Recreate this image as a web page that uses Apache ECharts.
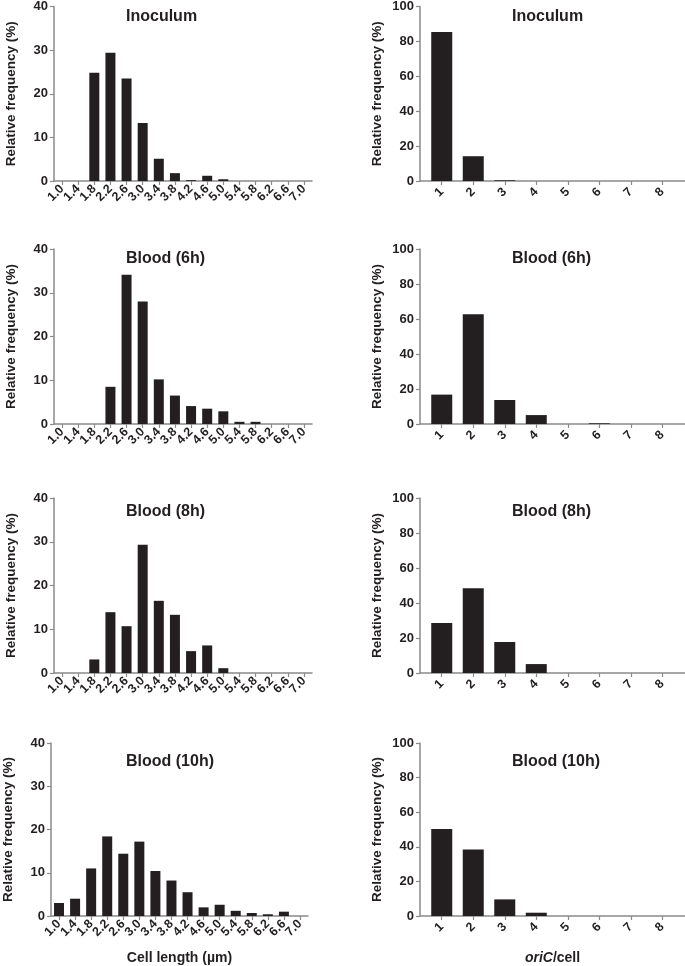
<!DOCTYPE html>
<html>
<head>
<meta charset="utf-8">
<script src="https://cdn.jsdelivr.net/npm/echarts@6/dist/echarts.min.js"></script>
<style>
html,body{margin:0;padding:0;background:#fff;}
#chart{width:685px;height:966px;}
</style>
</head>
<body>
<div id="chart"></div>
<script>
// ---- Data ----
const lengthLabels = ['1.0','1.4','1.8','2.2','2.6','3.0','3.4','3.8','4.2','4.6','5.0','5.4','5.8','6.2','6.6','7.0'];
const oricLabels = ['1','2','3','4','5','6','7','8'];
const panelTitles = ['Inoculum', 'Blood (6h)', 'Blood (8h)', 'Blood (10h)'];

const lenInoculum = [0, 0, 24.8, 29.4, 23.5, 13.3, 5.1, 1.8, 0.2, 1.2, 0.4, 0, 0, 0, 0, 0];
const lenBlood6h  = [0, 0, 0, 8.5, 34.1, 28.0, 10.2, 6.5, 4.1, 3.5, 2.9, 0.5, 0.5, 0, 0, 0];
const lenBlood8h  = [0, 0, 3.1, 13.9, 10.7, 29.3, 16.5, 13.3, 5.0, 6.3, 1.1, 0, 0, 0, 0, 0];
const lenBlood10h = [3.0, 4.0, 11.0, 18.4, 14.4, 17.2, 10.4, 8.2, 5.5, 2.0, 2.6, 1.2, 0.7, 0.4, 1.0, 0];

const oricInoculum = [85.4, 14.2, 0.4, 0, 0, 0, 0, 0];
const oricBlood6h  = [16.8, 62.7, 13.7, 5.1, 0, 0.4, 0, 0];
const oricBlood8h  = [28.6, 48.4, 17.7, 5.1, 0, 0, 0, 0];
const oricBlood10h = [50.3, 38.4, 9.6, 1.9, 0, 0, 0, 0];

// ---- Layout ----
const INK = '#231f20';
const AXIS = '#8a8a8a';
const FONT = '"Liberation Sans", Arial, Helvetica, sans-serif';
const rows = [
  {top: 5, height: 176, leftX: 54},
  {top: 249, height: 175, leftX: 54},
  {top: 498, height: 175, leftX: 54},
  {top: 743, height: 175, leftX: 50}
];
const lenSets = [lenInoculum, lenBlood6h, lenBlood8h, lenBlood10h];
const oricSets = [oricInoculum, oricBlood6h, oricBlood8h, oricBlood10h];
const titleY = [17, 259, 512, 762];

const oricX = oricLabels.map(parseFloat);

const grids = [], xAxes = [], yAxes = [], series = [], graphics = [];

const yAxisBase = (idx, ymax, yint) => ({
  type: 'value', gridIndex: idx, min: 0, max: ymax, interval: yint,
  axisLine: {show: true, lineStyle: {color: AXIS, width: 1.5}},
  axisTick: {show: true, length: 4, lineStyle: {color: AXIS, width: 1.2}},
  axisLabel: {margin: 6, fontFamily: FONT, fontWeight: 'bold', fontSize: 13, color: INK},
  splitLine: {show: false},
  name: 'Relative frequency (%)', nameLocation: 'middle', nameGap: 36,
  nameTextStyle: {fontFamily: FONT, fontWeight: 'bold', fontSize: 13.5, color: INK}
});

function xNameOpts(xName) {
  return xName ? {name: xName.text, nameLocation: 'middle', nameGap: 35, nameTextStyle: xName.style} : {};
}

// Left panels: cell length histogram (category axis)
function addLengthPanel(idx, row, values, xName) {
  grids.push({left: row.leftX, top: row.top, width: 258, height: row.height});
  xAxes.push(Object.assign({
    type: 'category', gridIndex: idx, data: lengthLabels, boundaryGap: true,
    axisLine: {show: true, lineStyle: {color: AXIS, width: 1.5}},
    axisTick: {show: true, length: 4, alignWithLabel: true, interval: 0, lineStyle: {color: AXIS, width: 1.2}},
    axisLabel: {interval: 0, rotate: 45, margin: 6, fontFamily: FONT, fontWeight: 'bold', fontSize: 12.5, color: INK},
    splitLine: {show: false}
  }, xNameOpts(xName)));
  yAxes.push(yAxisBase(idx, 40, 10));
  series.push({
    type: 'bar', xAxisIndex: idx, yAxisIndex: idx, barWidth: 10,
    itemStyle: {color: INK, borderWidth: 0},
    data: values, silent: true, animation: false
  });
}

// Right panels: oriC per cell (value axis positioned like the original)
function addOricPanel(idx, row, values, xName) {
  grids.push({left: 420, top: row.top, width: 265, height: row.height});
  xAxes.push(Object.assign({
    type: 'value', gridIndex: idx, min: 0.31, max: 8.72,
    axisLine: {show: true, onZero: false, lineStyle: {color: AXIS, width: 1.5}},
    axisTick: {show: true, length: 4, customValues: oricX, lineStyle: {color: AXIS, width: 1.2}},
    axisLabel: {customValues: oricX, rotate: 45, margin: 9, fontFamily: FONT, fontWeight: 'bold', fontSize: 12.5, color: INK,
      formatter: v => String(Math.round(v))},
    splitLine: {show: false}
  }, xNameOpts(xName)));
  yAxes.push(yAxisBase(idx, 100, 20));
  series.push({
    type: 'bar', xAxisIndex: idx, yAxisIndex: idx, barWidth: 21,
    itemStyle: {color: INK, borderWidth: 0},
    data: oricX.map((x, i) => [x, values[i]]), silent: true, animation: false
  });
}

let idx = 0;
rows.forEach((row, r) => {
  const lastRow = r === rows.length - 1;
  addLengthPanel(idx++, row, lenSets[r],
    lastRow ? {text: 'Cell length (µm)', style: {fontFamily: FONT, fontWeight: 'bold', fontSize: 14, color: INK}} : null);
  addOricPanel(idx++, row, oricSets[r],
    lastRow ? {text: '{i|oriC}{n|/cell}', style: {
      fontFamily: FONT, fontWeight: 'bold', fontSize: 14, color: INK,
      rich: {
        i: {fontFamily: FONT, fontWeight: 'bold', fontStyle: 'italic', fontSize: 14, color: INK},
        n: {fontFamily: FONT, fontWeight: 'bold', fontSize: 14, color: INK}
      }}} : null);
  [126, 512].forEach(x => {
    graphics.push({
      type: 'text', x: x, y: titleY[r],
      style: {text: panelTitles[r], font: 'bold 16px ' + FONT, fill: INK, textAlign: 'left', textVerticalAlign: 'middle'}
    });
  });
});

const chart = echarts.init(document.getElementById('chart'), null, {renderer: 'canvas'});
chart.setOption({
  backgroundColor: '#ffffff',
  animation: false,
  grid: grids, xAxis: xAxes, yAxis: yAxes, series: series,
  graphic: graphics
});
</script>
</body>
</html>
